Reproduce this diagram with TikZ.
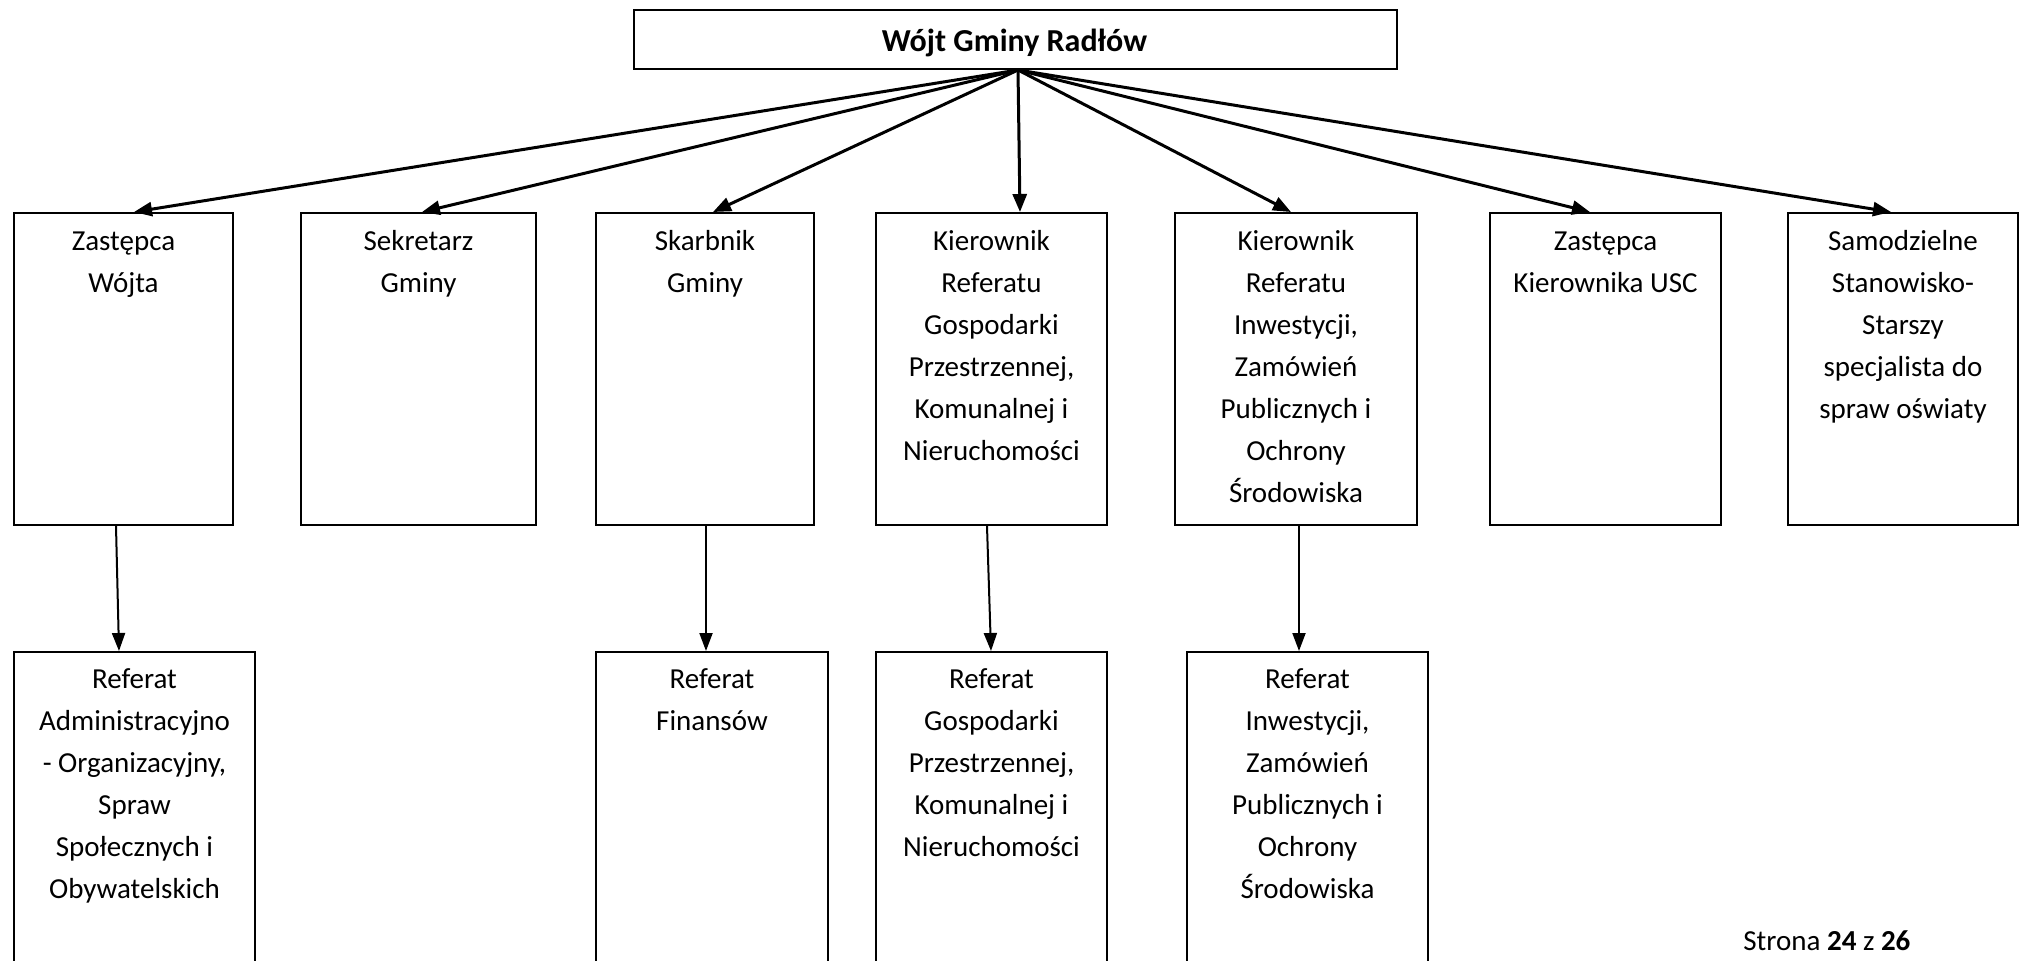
\documentclass[tikz,border=0pt]{standalone}
\usepackage{fontspec}
\setmainfont{Carlito}
\usetikzlibrary{arrows.meta,calc}
\begin{document}
\begin{tikzpicture}[x=0.5pt,y=-0.5pt,
  box/.style={draw=black, line width=1pt, rectangle, inner sep=0pt, anchor=north west, minimum height=156pt},
  lowbox/.style={draw=black, line width=1pt, rectangle, inner sep=0pt, anchor=north west, minimum height=170pt},
  lbl/.style={font=\fontsize{14.5}{21}\selectfont, text width=140pt, align=flush center, anchor=base, inner sep=0pt},
  toparr/.style={line width=1.5pt, -{Triangle[length=9pt,width=7pt]}},
  lowarr/.style={line width=1pt, -{Triangle[length=9pt,width=6.5pt]}}]
\clip (0,0) rectangle (2031,960);
\fill[white] (0,0) rectangle (2031,960);

% top box
\node[box, minimum width=381.5pt, minimum height=29.5pt] (top) at (633,9) {};
\node[font=\fontsize{16}{21}\selectfont\bfseries, anchor=base, inner sep=0pt] (toptxt) at (1014.5,51) {Wójt Gminy Radłów};

% second row
\node[box, minimum width=109.5pt] (b1) at (13,212) {};
\node[box, minimum width=117.5pt] (b2) at (300,212) {};
\node[box, minimum width=109pt] (b3) at (595,212) {};
\node[box, minimum width=115.5pt] (b4) at (875,212) {};
\node[box, minimum width=121pt] (b5) at (1174,212) {};
\node[box, minimum width=115.5pt] (b6) at (1489,212) {};
\node[box, minimum width=115pt] (b7) at (1787,212) {};

\node[lbl] (t1) at ($(b1.north)+(0,38)$) {Zastępca\\Wójta};
\node[lbl] (t2) at ($(b2.north)+(0,38)$) {Sekretarz\\Gminy};
\node[lbl] (t3) at ($(b3.north)+(0,38)$) {Skarbnik\\Gminy};
\node[lbl] (t4) at ($(b4.north)+(0,38)$) {Kierownik\\Referatu\\Gospodarki\\Przestrzennej,\\Komunalnej i\\Nieruchomości};
\node[lbl] (t5) at ($(b5.north)+(0,38)$) {Kierownik\\Referatu\\Inwestycji,\\Zamówień\\Publicznych i\\Ochrony\\Środowiska};
\node[lbl] (t6) at ($(b6.north)+(0,38)$) {Zastępca\\Kierownika USC};
\node[lbl] (t7) at ($(b7.north)+(0,38)$) {Samodzielne\\Stanowisko-\\Starszy\\specjalista do\\spraw oświaty};

% third row
\node[lowbox, minimum width=120.5pt] (r1) at (13,651) {};
\node[lowbox, minimum width=116pt] (r3) at (595,651) {};
\node[lowbox, minimum width=115.5pt] (r4) at (875,651) {};
\node[lowbox, minimum width=120.5pt] (r5) at (1186,651) {};

\node[lbl] (s1) at ($(r1.north)+(0,37)$) {Referat\\Administracyjno\\- Organizacyjny,\\Spraw\\Społecznych i\\Obywatelskich};
\node[lbl] (s3) at ($(r3.north)+(0,37)$) {Referat\\Finansów};
\node[lbl] (s4) at ($(r4.north)+(0,37)$) {Referat\\Gospodarki\\Przestrzennej,\\Komunalnej i\\Nieruchomości};
\node[lbl] (s5) at ($(r5.north)+(0,37)$) {Referat\\Inwestycji,\\Zamówień\\Publicznych i\\Ochrony\\Środowiska};

% connectors from the top
\coordinate (apex) at ($(top.south)+(2.5,0)$);
\draw[toparr] (apex) -- ($(b1.north)+(10.5,0)$);
\draw[toparr] (apex) -- ($(b2.north)+(3.5,0)$);
\draw[toparr] (apex) -- ($(b3.north)+(8,0)$);
\draw[toparr] (apex) -- ($(b4.north)+(28.5,0)$);
\draw[toparr] (apex) -- ($(b5.north)+(-5,0)$);
\draw[toparr] (apex) -- ($(b6.north)+(-15.5,0)$);
\draw[toparr] (apex) -- ($(b7.north)+(-12,0)$);

% lower connectors
\draw[lowarr] ($(b1.south)+(-7.5,0)$) -- ($(r1.north)+(-15.5,0)$);
\draw[lowarr] ($(b3.south)+(1,0)$) -- ($(r3.north)+(-6,0)$);
\draw[lowarr] ($(b4.south)+(-4.5,0)$) -- ($(r4.north)+(-0.5,0)$);
\draw[lowarr] ($(b5.south)+(3,0)$) -- ($(r5.north)+(-8.5,0)$);

% footer
\node[font=\fontsize{14.5}{21}\selectfont, anchor=base west, inner sep=0pt] (foot) at (1743,950) {Strona \textbf{24} z \textbf{26}};
\end{tikzpicture}
\end{document}
